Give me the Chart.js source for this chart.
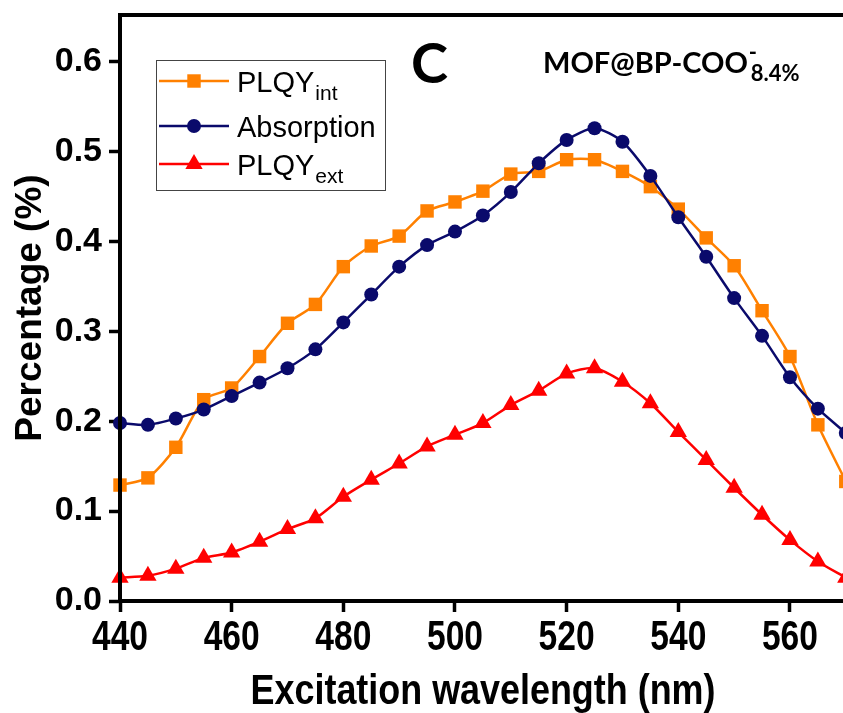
<!DOCTYPE html>
<html>
<head>
<meta charset="utf-8">
<script src="https://cdn.jsdelivr.net/npm/chart.js@4/dist/chart.umd.min.js"></script>
<style>
  html, body { margin: 0; padding: 0; background: #fff; overflow: hidden; }
  #wrap { width: 843px; height: 713px; }
</style>
</head>
<body>
<div id="wrap"><canvas id="plqyChart" width="843" height="713"></canvas></div>
<script>
const wavelengths = [440, 445, 450, 455, 460, 465, 470, 475, 480, 485, 490, 495, 500, 505, 510, 515, 520, 525, 530, 535, 540, 545, 550, 555, 560, 565, 570];
const plqyInt = [0.129, 0.137, 0.171, 0.224, 0.237, 0.272, 0.309, 0.330, 0.372, 0.395, 0.406, 0.434, 0.444, 0.456, 0.475, 0.478, 0.491, 0.491, 0.478, 0.461, 0.436, 0.404, 0.373, 0.323, 0.272, 0.196, 0.133];
const absorption = [0.198, 0.196, 0.203, 0.213, 0.228, 0.243, 0.259, 0.280, 0.310, 0.341, 0.372, 0.396, 0.411, 0.429, 0.455, 0.487, 0.513, 0.526, 0.511, 0.473, 0.427, 0.383, 0.337, 0.295, 0.249, 0.214, 0.187];
const plqyExt = [0.026, 0.028, 0.036, 0.048, 0.054, 0.066, 0.080, 0.092, 0.116, 0.135, 0.153, 0.172, 0.185, 0.198, 0.218, 0.234, 0.253, 0.259, 0.244, 0.220, 0.188, 0.157, 0.126, 0.096, 0.068, 0.044, 0.026];
const xTicks = [440, 460, 480, 500, 520, 540, 560];
const yTicks = [0.0, 0.1, 0.2, 0.3, 0.4, 0.5, 0.6];

const ORANGE = "#ff8000";
const NAVY = "#0a0a6b";
const RED = "#ff0000";

function toPoints(values) {
  return wavelengths.map((x, i) => ({ x, y: values[i] }));
}

// legend entries: [label, subscript]
const legendItems = [
  ["PLQY", "int"],
  ["Absorption", ""],
  ["PLQY", "ext"],
];

// narrow bold text (no Arial Narrow here, so squeeze Liberation Sans)
function narrowText(ctx, text, x, y, size, squeeze) {
  ctx.save();
  ctx.font = "bold " + size + "px 'Liberation Sans', Arial, sans-serif";
  ctx.textAlign = "center";
  ctx.textBaseline = "middle";
  ctx.translate(x, y);
  ctx.scale(squeeze, 1);
  ctx.fillText(text, 0, 0);
  ctx.restore();
}

const decorations = {
  id: "decorations",
  afterDatasetsDraw(chart) {
    const ctx = chart.ctx;
    const a = chart.chartArea;
    const xs = chart.scales.x;
    ctx.save();

    // frame: left, top, bottom (right side runs off the page)
    ctx.strokeStyle = "#000";
    ctx.lineWidth = 4;
    ctx.beginPath();
    ctx.moveTo(chart.width + 5, a.top);
    ctx.lineTo(a.left, a.top);
    ctx.lineTo(a.left, a.bottom);
    ctx.lineTo(chart.width + 5, a.bottom);
    ctx.stroke();

    // x tick labels and title
    ctx.fillStyle = "#000";
    xTicks.forEach((v) => {
      narrowText(ctx, String(v), xs.getPixelForValue(v), 638, 42, 0.8);
    });
    narrowText(ctx, "Excitation wavelength (nm)", 483, 692, 42, 0.855);

    // legend box
    ctx.lineWidth = 1;
    ctx.strokeStyle = "#444";
    ctx.strokeRect(156.5, 60.5, 229, 130);

    const rows = [81, 126, 164];
    ctx.textBaseline = "alphabetic";
    legendItems.forEach((item, i) => {
      const ds = chart.data.datasets[i];
      const y = rows[i];
      ctx.strokeStyle = ds.borderColor;
      ctx.lineWidth = ds.borderWidth;
      ctx.beginPath();
      ctx.moveTo(159, y);
      ctx.lineTo(229, y);
      ctx.stroke();
      ctx.fillStyle = ds.backgroundColor;
      ctx.strokeStyle = ds.borderColor;
      Chart.helpers.drawPoint(ctx, {
        pointStyle: ds.pointStyle,
        radius: ds.pointRadius,
        rotation: 0,
        borderWidth: 0,
      }, 194, y);

      ctx.fillStyle = "#000";
      ctx.font = "29px 'Liberation Sans', Arial, sans-serif";
      ctx.fillText(item[0], 237, y + 11);
      if (item[1]) {
        const w = ctx.measureText(item[0]).width;
        ctx.font = "21px 'Liberation Sans', Arial, sans-serif";
        ctx.fillText(item[1], 237 + w + 1, y + 19);
      }
    });

    // panel letter
    ctx.fillStyle = "#000";
    ctx.font = "bold 56px Lato, 'Open Sans', sans-serif";
    ctx.fillText("C", 411, 83);

    // sample label
    ctx.font = "bold 29px Lato, 'Open Sans', sans-serif";
    const main = "MOF@BP-COO";
    ctx.fillText(main, 543, 73);
    const mw = ctx.measureText(main).width;
    ctx.font = "bold 22px Lato, 'Open Sans', sans-serif";
    ctx.fillText("-", 543 + mw + 1, 60);
    ctx.fillText("8.4%", 543 + mw + 3, 81);

    ctx.restore();
  },
};

const ctx = document.getElementById("plqyChart");

new Chart(ctx, {
  type: "line",
  data: {
    datasets: [
      {
        label: "PLQYint",
        data: toPoints(plqyInt),
        borderColor: ORANGE,
        backgroundColor: ORANGE,
        borderWidth: 2.5,
        pointStyle: "rect",
        pointRadius: 9.5,
        pointBorderWidth: 0,
        tension: 0.25,
        order: 2,
      },
      {
        label: "Absorption",
        data: toPoints(absorption),
        borderColor: NAVY,
        backgroundColor: NAVY,
        borderWidth: 2.5,
        pointStyle: "circle",
        pointRadius: 7,
        pointBorderWidth: 0,
        tension: 0.25,
        order: 1,
      },
      {
        label: "PLQYext",
        data: toPoints(plqyExt),
        borderColor: RED,
        backgroundColor: RED,
        borderWidth: 2.5,
        pointStyle: "triangle",
        pointRadius: 10,
        pointBorderWidth: 0,
        tension: 0.25,
        order: 3,
      },
    ],
  },
  options: {
    responsive: false,
    animation: false,
    devicePixelRatio: 1,
    clip: false,
    layout: {
      autoPadding: false,
      padding: { top: 15, right: 0, bottom: 0, left: 0 },
    },
    plugins: {
      legend: { display: false },
      tooltip: { enabled: false },
    },
    scales: {
      x: {
        type: "linear",
        min: 440,
        max: 569.5,
        afterFit: (s) => {
          s.height = 112;
          s.paddingLeft = 0;
          s.paddingRight = 0;
        },
        afterBuildTicks: (s) => { s.ticks = xTicks.map((v) => ({ value: v })); },
        ticks: { display: false },
        grid: {
          drawOnChartArea: false,
          tickLength: 11,
          tickWidth: 3.5,
          tickColor: "#000",
        },
        border: { display: false },
      },
      y: {
        min: 0,
        max: 0.652,
        afterFit: (s) => {
          s.width = 120;
          s.paddingTop = 0;
          s.paddingBottom = 0;
        },
        afterBuildTicks: (s) => { s.ticks = yTicks.map((v) => ({ value: v })); },
        ticks: {
          color: "#000",
          padding: 7,
          callback: (v) => v.toFixed(1),
          font: { family: "'Liberation Sans', Arial", size: 34, weight: "bold" },
        },
        grid: {
          drawOnChartArea: false,
          tickLength: 11,
          tickWidth: 3.5,
          tickColor: "#000",
        },
        border: { display: false },
        title: {
          display: true,
          text: "Percentage (%)",
          color: "#000",
          font: { family: "'Liberation Sans', Arial", size: 37, weight: "bold" },
          padding: { top: 9, bottom: 0 },
        },
      },
    },
  },
  plugins: [decorations],
});
</script>
</body>
</html>
